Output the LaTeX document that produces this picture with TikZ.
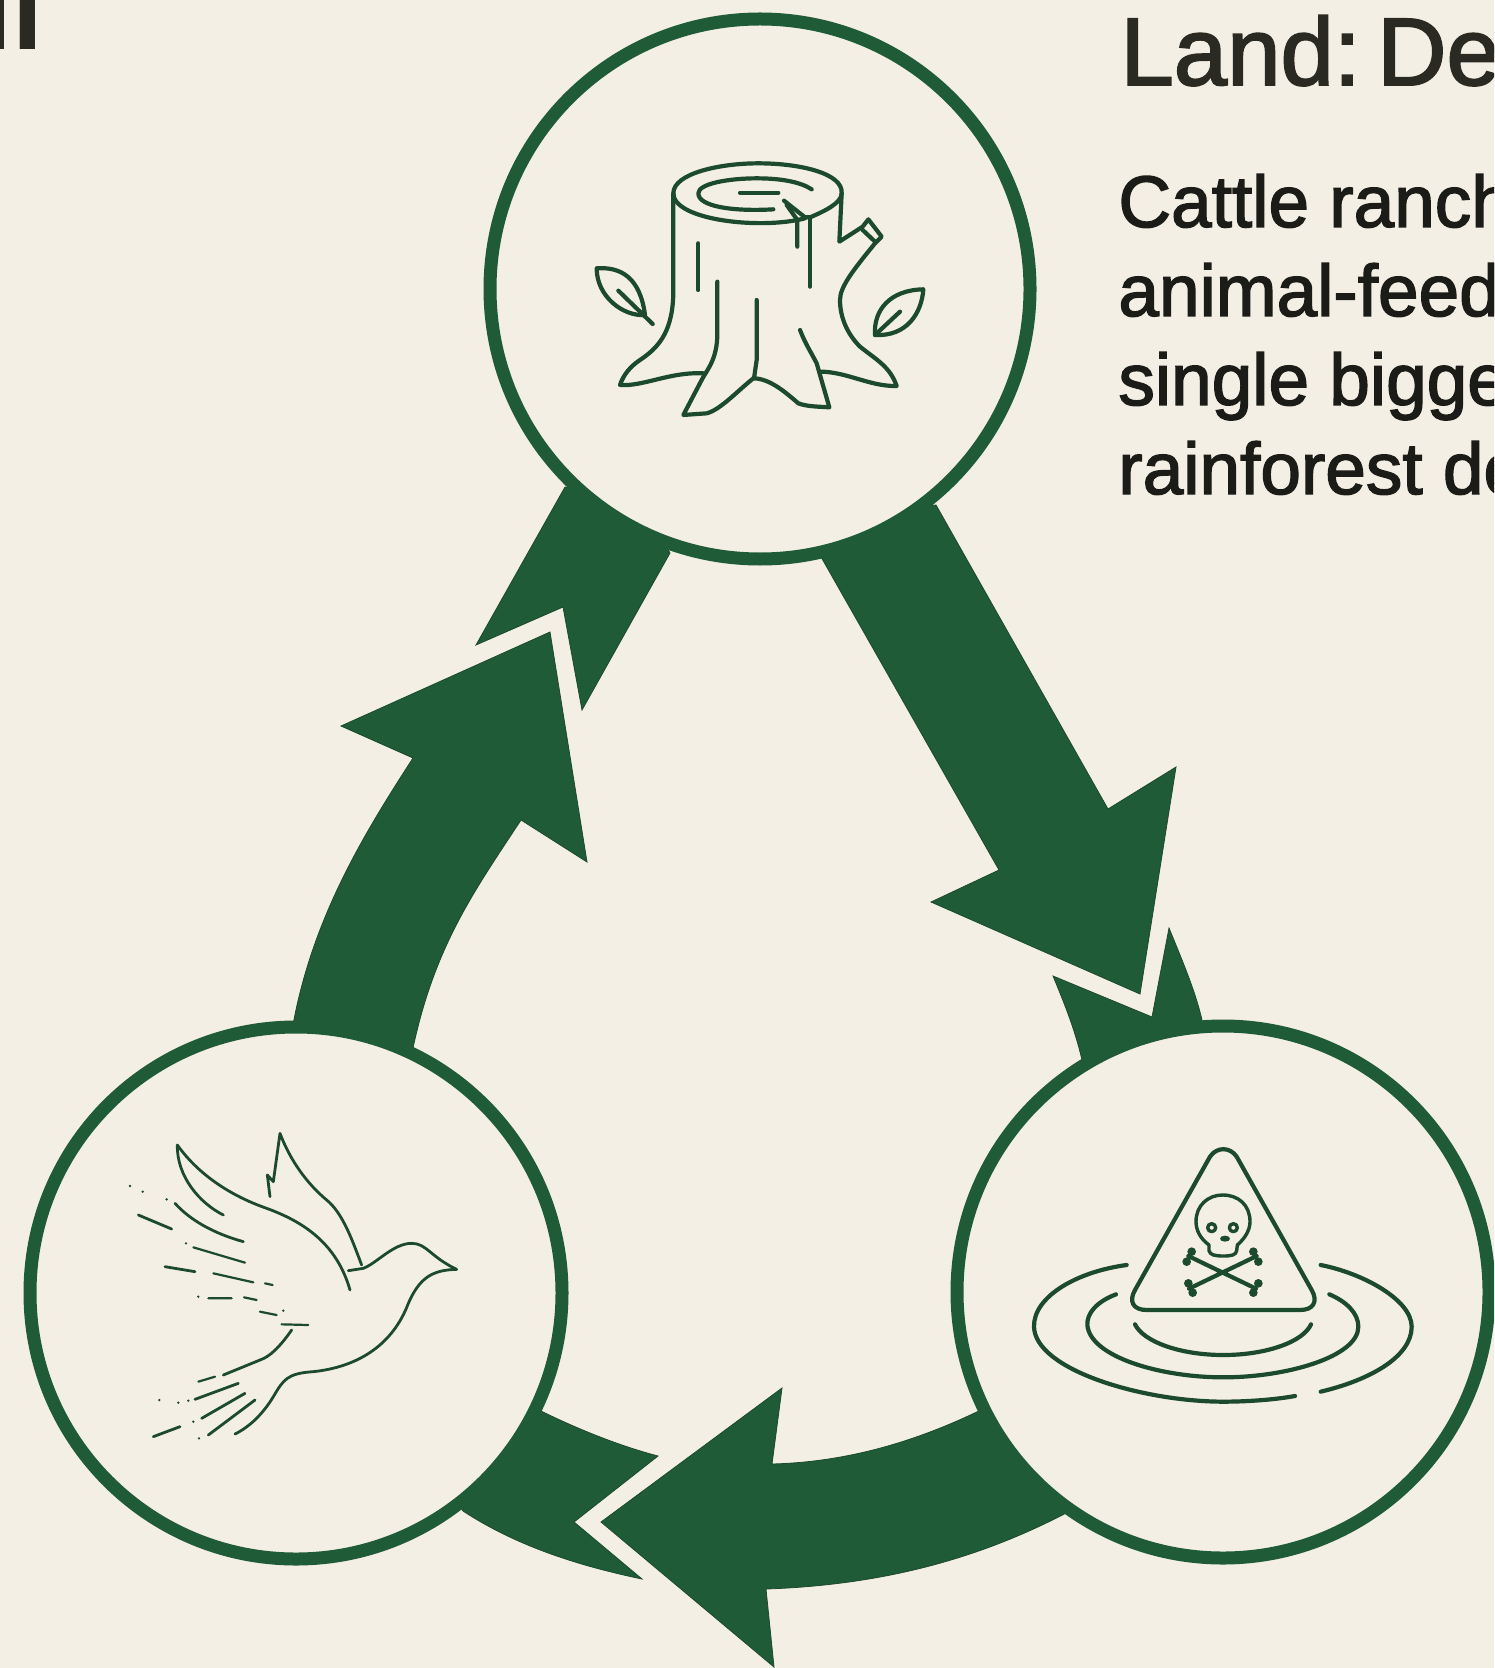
\documentclass[tikz,border=0pt]{standalone}
\usepackage{fontspec}
\setmainfont{Liberation Sans}
\newfontfamily\medfont[FakeBold=2]{Liberation Sans}
\definecolor{bgc}{HTML}{F4EFE4}
\definecolor{grn}{HTML}{1F5B36}
\definecolor{ink}{HTML}{1C4A2C}
\definecolor{txt}{HTML}{1B1B17}
\definecolor{ttl}{HTML}{2A2A22}
\tikzset{
  ringc/.style={circle,draw=grn,line width=6.5pt,fill=bgc,minimum size=270pt,inner sep=0pt},
  flow/.style={fill=grn,draw=ink,line width=0.4pt,line join=miter},
  icon/.style={draw=ink,line width=2.1pt,line cap=round,line join=round},
  thin icon/.style={draw=ink,line width=1.4pt,line cap=round,line join=round},
  fleck/.style={draw=ink,line width=1.1pt,line cap=round},
  zoomed/.style={xscale=1/3,yscale=1/3},
  bodytext/.style={anchor=base west,inner sep=0pt,font=\medfont\fontsize{36.5}{40}\selectfont,text=txt},
}
\begin{document}
\begin{tikzpicture}[x=0.5pt,y=-0.5pt]
\useasboundingbox (0,0) rectangle (1494,1668);
\clip (0,0) rectangle (1494,1668);
\fill[bgc] (0,0) rectangle (1494,1668);

% arrows
\fill[flow] (550,632) -- (341,726) -- (413,758)
  .. controls (360,840) and (305,930) .. (289,1050) -- (413,1080) -- (413,1048)
  .. controls (435,945) and (475,890) .. (521,820) -- (587,862) -- cycle;
\fill[flow] (565,487) -- (476,645) -- (563,607) -- (582,710) -- (670,553) -- (640,500) -- cycle;

\fill[flow] (800,520) -- (999,870) -- (931,902) -- (1140,994) -- (1176,767) -- (1108,809) -- (936,505) -- cycle;
\fill[flow] (1053,976) -- (1152,1017) -- (1169,928) .. controls (1182,960) and (1195,990) .. (1202,1020)
  -- (1180,1080) -- (1082,1080) -- (1082,1060) .. controls (1075,1030) and (1065,1005) .. (1053,976) -- cycle;

\fill[flow] (601,1522) -- (782,1388) -- (772,1464)
  .. controls (850,1462) and (920,1440) .. (985,1408) -- (1090,1500)
  .. controls (985,1560) and (880,1585) .. (766,1589) -- (774,1667) -- cycle;
\fill[flow] (543,1412) .. controls (580,1430) and (620,1446) .. (658,1456) -- (574,1522) -- (642,1579)
  .. controls (575,1565) and (515,1545) .. (463,1511) -- (420,1450) -- (500,1390) -- cycle;

% rings
\node[ringc] (topring) at (760,289) {};
\node[ringc,minimum size=266pt] (leftring) at (296,1293) {};
\node[ringc,minimum size=266pt] (rightring) at (1223,1292) {};

% stump
\begin{scope}[shift={(560,130)},zoomed]
\draw[icon] (735,265) .. controls (600,300) and (340,270) .. (340,190)
  .. controls (340,130) and (480,100) .. (595,100) .. controls (720,100) and (850,130) .. (845,190)
  .. controls (845,220) and (790,245) .. (750,262);
\draw[icon] (640,238) .. controls (520,245) and (415,230) .. (415,190)
  .. controls (415,160) and (510,145) .. (590,145) .. controls (660,145) and (720,155) .. (755,178);
\draw[icon] (540,188) -- (655,188);
\draw[icon] (672,212) -- (735,262) -- (750,262);
\draw[icon] (680,225) -- (712,270) -- (712,350);
\draw[icon] (750,262) -- (750,470);
\draw[icon] (340,190) -- (340,480) .. controls (340,600) and (300,650) .. (240,690)
  .. controls (210,710) and (190,735) .. (180,765) .. controls (250,770) and (330,725) .. (430,730);
\draw[icon] (415,340) -- (415,480);
\draw[icon] (472,455) -- (472,610) .. controls (472,690) and (440,720) .. (425,750) -- (370,855) -- (440,850)
  .. controls (480,840) and (530,785) .. (580,745) .. controls (630,745) and (680,790) .. (715,820)
  .. controls (740,830) and (780,830) .. (808,832) -- (770,700) .. controls (755,670) and (735,640) .. (720,600);
\draw[icon] (590,510) -- (590,690) -- (582,745);
\draw[icon] (780,725) .. controls (860,725) and (930,770) .. (1010,768)
  .. controls (990,710) and (950,690) .. (900,650) .. controls (860,610) and (840,560) .. (840,510)
  .. controls (840,470) and (880,420) .. (945,340) -- (965,320) -- (925,268) -- (908,290) -- (838,335) -- (845,190);
\draw[icon] (908,300) -- (945,335);
\draw[icon] (110,415) .. controls (180,410) and (240,440) .. (255,555) .. controls (190,560) and (110,500) .. (110,415) -- cycle;
\draw[icon] (175,482) -- (278,582);
\draw[icon] (945,615) .. controls (940,540) and (990,480) .. (1090,478) .. controls (1085,550) and (1040,620) .. (945,615) -- cycle;
\draw[icon] (945,615) -- (1020,545);
\end{scope}

% dove
\begin{scope}[shift={(100,1110)},zoomed]
\draw[thin icon] (370,315) .. controls (300,280) and (230,200) .. (232,105)
  .. controls (300,200) and (400,260) .. (500,295) .. controls (610,335) and (710,400) .. (750,540);
\draw[thin icon] (510,260) -- (502,195) -- (520,215) -- (540,70) .. controls (570,150) and (620,220) .. (680,270)
  .. controls (730,310) and (760,400) .. (785,465);
\draw[thin icon] (745,482) -- (790,475) .. controls (830,460) and (880,400) .. (935,400)
  .. controls (980,400) and (990,440) .. (1070,478) .. controls (1000,480) and (960,500) .. (925,580)
  .. controls (880,700) and (780,770) .. (640,785) .. controls (560,790) and (550,810) .. (520,860)
  .. controls (490,910) and (450,950) .. (405,972);
\draw[thin icon] (225,280) .. controls (270,330) and (340,370) .. (430,395);
\draw[thin icon] (115,315) -- (215,357);
\draw[fleck] (280,412) -- (435,458);
\draw[thin icon] (195,470) -- (285,485);
\draw[fleck] (340,490) -- (460,517) (495,520) -- (518,525) (325,565) -- (395,565) (432,562) -- (470,570)
  (480,605) -- (530,615) (545,643) -- (625,645);
\draw[thin icon] (575,660) .. controls (540,710) and (510,740) .. (480,750) -- (370,795);
\draw[fleck] (345,800) -- (295,815);
\draw[thin icon] (415,820) -- (285,868);
\draw[thin icon] (435,850) -- (305,925);
\draw[thin icon] (240,950) -- (160,980);
\draw[thin icon] (465,870) -- (325,975);
\foreach \px/\py in {90/228,128/245,200/268,258/400,295/560,550/602,265/872,235/878,178/870,280/935,297/985}
  \fill[ink] (\px,\py) circle[radius=4];
\end{scope}

% hazard
\begin{scope}[shift={(1010,1130)},zoomed]
\draw[icon] (600,80) -- (375,480) .. controls (355,515) and (370,540) .. (410,540) -- (870,540)
  .. controls (910,540) and (925,515) .. (905,480) -- (680,80) .. controls (660,50) and (620,50) .. (600,80) -- cycle;
\draw[icon,line width=1.7pt] (597,345) .. controls (570,325) and (558,300) .. (558,275) .. controls (558,225) and (595,195) .. (638,195)
  .. controls (685,195) and (720,225) .. (720,275) .. controls (720,300) and (705,325) .. (682,345) -- (680,362)
  .. controls (678,375) and (665,378) .. (640,378) .. controls (615,378) and (600,375) .. (597,362) -- cycle;
\draw[icon,line width=1.7pt] (605,293) circle[radius=12] (670,293) circle[radius=12];
\fill[ink] (645,326) ellipse[x radius=15,y radius=9];
\draw[icon] (535,378) -- (738,476) (740,378) -- (537,476);
\foreach \px/\py in {530/395,545/365,730/365,745/395,535/460,548/488,730/488,745/460}
  \fill[ink] (\px,\py) circle[radius=13];
\draw[icon] (350,405) .. controls (200,425) and (70,500) .. (72,590) .. controls (75,720) and (400,815) .. (640,815)
  .. controls (720,815) and (800,808) .. (855,798);
\draw[icon] (932,785) .. controls (1080,750) and (1205,680) .. (1205,590) .. controls (1205,510) and (1060,430) .. (932,405);
\draw[icon] (318,493) .. controls (260,515) and (230,550) .. (232,585) .. controls (240,680) and (450,742) .. (640,742)
  .. controls (830,742) and (1045,680) .. (1045,590) .. controls (1045,550) and (1010,515) .. (958,493);
\draw[icon] (375,583) .. controls (400,635) and (510,675) .. (640,675) .. controls (770,675) and (880,635) .. (903,583);
\end{scope}

% texts
\node[anchor=base west,inner sep=0pt,font=\medfont\fontsize{48}{55}\selectfont,text=ttl] (landhead) at (1120,85) {Land:\hspace*{-5pt} De};
\node[bodytext] (line1) at (1118,227) {Cattle ranch};
\node[bodytext] (line2) at (1118,316) {animal-feed};
\node[bodytext] (line3) at (1118,405) {single bigge};
\node[bodytext] (line4) at (1118,494) {rainforest de};
\node[anchor=base west,inner sep=0pt,font=\bfseries\fontsize{55.5}{60}\selectfont,text=ttl] (cornerhead) at (-19,50) {ll};
\end{tikzpicture}
\end{document}
